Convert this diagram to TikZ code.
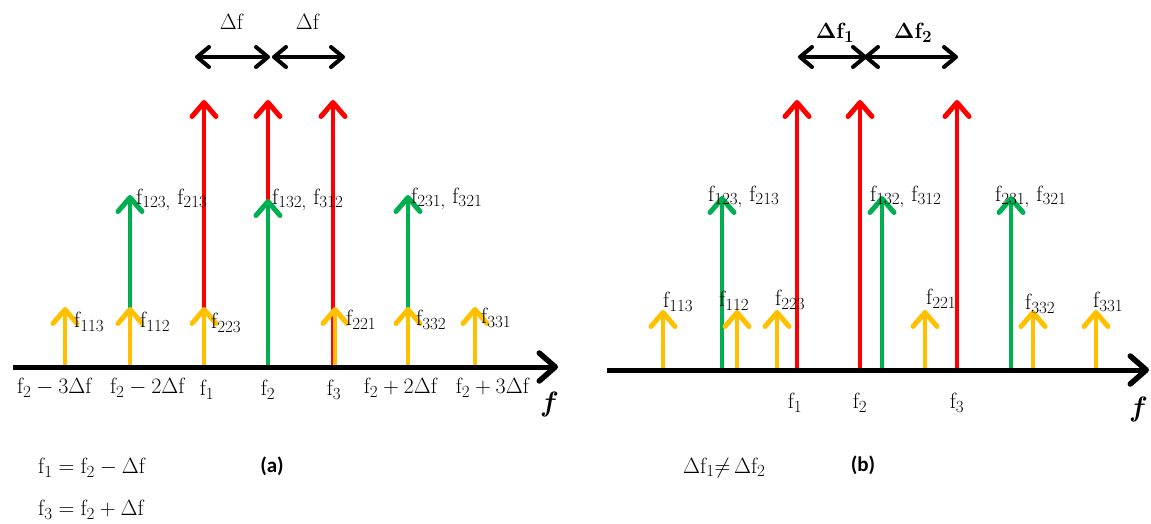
\RequirePackage{fix-cm}
\documentclass[tikz,border=0pt]{standalone}
\usepackage[no-math]{fontspec}
\newfontfamily\carlito{Carlito}
\DeclareMathSizes{22}{22}{17}{13}
\usetikzlibrary{arrows.meta}
\definecolor{sred}{HTML}{FF0000}
\definecolor{sgreen}{HTML}{00B050}
\definecolor{syellow}{HTML}{FFC000}
\tikzset{
  spike/.style={line width=4pt, -{Straight Barb[length=14pt,width=24pt,line width=5pt,round]}},
  axisline/.style={line width=5pt, -{Straight Barb[length=16pt,width=28pt,line width=5.5pt,round]}},
  gap/.style={line width=3.5pt, {Straight Barb[length=12pt,width=20pt,line width=4pt,round]}-{Straight Barb[length=12pt,width=20pt,line width=4pt,round]}},
  lbl/.style={inner sep=0pt, anchor=west, font=\fontsize{22}{25}\selectfont},
  albl/.style={inner sep=0pt, anchor=center, font=\fontsize{22}{25}\selectfont},
  axf/.style={inner sep=0pt, font=\fontsize{28}{30}\selectfont\bfseries\itshape},
  tag/.style={inner sep=0pt, font=\fontsize{21}{24}\selectfont\carlito\bfseries},
}
\begin{document}
\begin{tikzpicture}[x=1pt,y=-1pt]
\useasboundingbox (0,0) rectangle (1151,524);
% ================= panel (a) =================
\coordinate (aL) at (13,367);
\coordinate (aR) at (558,367);
% red
\foreach \x in {204,268,333} \draw[spike,sred] (\x,367) -- (\x,100);
% green
\draw[spike,sgreen] (130,367) -- (130,195);
\draw[spike,sgreen] (268,369) -- (268,199);
\draw[spike,sgreen] (408,367) -- (408,195);
% yellow
\foreach \x in {65,130,204,335,408,475} \draw[spike,syellow] (\x,367) -- (\x,307);
\draw[axisline] (aL) -- (aR);
% spacing arrows
\coordinate (d1) at (195,57);
\coordinate (d2) at (270,57);
\coordinate (d3) at (272,57);
\coordinate (d4) at (345,57);
\draw[gap] (d1) -- (d2);
\draw[gap] (d3) -- (d4);
\node[albl] (adf1) at (232,22) {$\Delta\mathrm{f}$};
\node[albl] (adf2) at (308,22) {$\Delta\mathrm{f}$};
% spike labels
\node[lbl] (a113) at (74,322) {$\mathrm{f_{113}}$};
\node[lbl] (a112) at (140,322) {$\mathrm{f_{112}}$};
\node[lbl] (a223) at (211,323) {$\mathrm{f_{223}}$};
\node[lbl] (a221) at (346,320) {$\mathrm{f_{221}}$};
\node[lbl] (a332) at (416,320) {$\mathrm{f_{332}}$};
\node[lbl] (a331) at (481,318) {$\mathrm{f_{331}}$};
\node[lbl] (ag1) at (136,200) {$\mathrm{f_{123,}\ f_{213}}$};
\node[lbl] (ag2) at (272,200) {$\mathrm{f_{132,}\ f_{312}}$};
\node[lbl] (ag3) at (411,199) {$\mathrm{f_{231,}\ f_{321}}$};
% axis labels
\node[albl] (ax1) at (55,388) {$\mathrm{f_2-3\Delta f}$};
\node[albl] (ax2) at (148,388) {$\mathrm{f_2-2\Delta f}$};
\node[albl] (ax3) at (207,390) {$\mathrm{f_1}$};
\node[albl] (ax4) at (268,390) {$\mathrm{f_2}$};
\node[albl] (ax5) at (334,390) {$\mathrm{f_3}$};
\node[albl] (ax6) at (401,388) {$\mathrm{f_2+2\Delta f}$};
\node[albl] (ax7) at (493,388) {$\mathrm{f_2+3\Delta f}$};
\node[axf] (aff) at (548,404) {f};
% bottom
\node[lbl] (aeq1) at (38,468) {$\mathrm{f_1=f_2-\Delta f}$};
\node[lbl] (aeq2) at (38,510) {$\mathrm{f_3=f_2+\Delta f}$};
\node[tag] (atag) at (272,466) {(a)};
% ================= panel (b) =================
\coordinate (bL) at (607,370);
\coordinate (bR) at (1149,370);
\foreach \x in {797,860,957} \draw[spike,sred] (\x,370) -- (\x,100);
\foreach \x in {722,882,1011} \draw[spike,sgreen] (\x,370) -- (\x,196);
\foreach \x in {663,737,777,925,1033,1096} \draw[spike,syellow] (\x,370) -- (\x,310);
\draw[axisline] (bL) -- (bR);
\coordinate (e1) at (798,57);
\coordinate (e2) at (867,57);
\coordinate (e3) at (864,57);
\coordinate (e4) at (958,57);
\draw[gap] (e1) -- (e2);
\draw[gap] (e3) -- (e4);
\node[albl] (bdf1) at (835,33) {$\mathbf{\Delta f_1}$};
\node[albl] (bdf2) at (913,33) {$\mathbf{\Delta f_2}$};
\node[lbl] (b113) at (663,302) {$\mathrm{f_{113}}$};
\node[lbl] (b112) at (719,301) {$\mathrm{f_{112}}$};
\node[lbl] (b223) at (775,300) {$\mathrm{f_{223}}$};
\node[lbl] (b221) at (926,299) {$\mathrm{f_{221}}$};
\node[lbl] (b332) at (1025,304) {$\mathrm{f_{332}}$};
\node[lbl] (b331) at (1093,302) {$\mathrm{f_{331}}$};
\node[lbl] (bg1) at (708,197) {$\mathrm{f_{123,}\ f_{213}}$};
\node[lbl] (bg2) at (870,197) {$\mathrm{f_{132,}\ f_{312}}$};
\node[lbl] (bg3) at (995,197) {$\mathrm{f_{231,}\ f_{321}}$};
\node[albl] (bx1) at (795,403) {$\mathrm{f_1}$};
\node[albl] (bx2) at (860,403) {$\mathrm{f_2}$};
\node[albl] (bx3) at (957,403) {$\mathrm{f_3}$};
\node[axf] (bff) at (1137,409) {f};
\node[lbl] (beq) at (683,468) {$\mathrm{\Delta f_1{\neq}\,\Delta f_2}$};
\node[tag] (btag) at (863,465) {(b)};
\end{tikzpicture}
\end{document}
